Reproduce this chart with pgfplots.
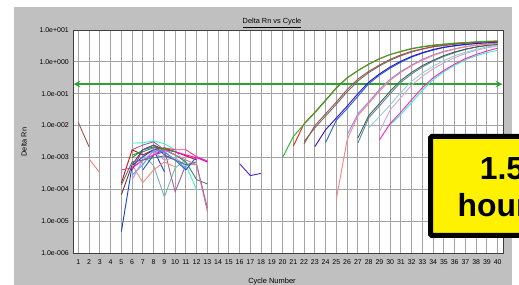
\documentclass[border=0pt]{standalone}
\usepackage{pgfplots}
\pgfplotsset{compat=1.18}
\usepackage{fontspec}
\setmainfont{Liberation Sans}
\definecolor{panel}{HTML}{C0C0C0}
\definecolor{gridc}{HTML}{A4A4A4}
\definecolor{thr}{HTML}{30A030}
\definecolor{cgreen}{HTML}{20B820}
\definecolor{cred}{HTML}{E02020}
\definecolor{cbrown}{HTML}{A05048}
\definecolor{cgray}{HTML}{687068}
\definecolor{cbviolet}{HTML}{3010C0}
\definecolor{cblue}{HTML}{2060E0}
\definecolor{csalmon}{HTML}{FF8080}
\definecolor{ccorn}{HTML}{8888FF}
\definecolor{cslate}{HTML}{406060}
\definecolor{cslateb}{HTML}{608888}
\definecolor{cpcyan}{HTML}{90D0D0}
\definecolor{cplum}{HTML}{D8A0D8}
\definecolor{cmag}{HTML}{FF20C0}
\definecolor{cturq}{HTML}{30F0D0}
\definecolor{naqua}{HTML}{40F0C0}
\definecolor{nred}{HTML}{D01010}
\definecolor{nbrown}{HTML}{803030}
\definecolor{nblue}{HTML}{1040E0}
\definecolor{ncadet}{HTML}{70B8B8}
\definecolor{nmauve}{HTML}{A060A0}
\definecolor{nteal}{HTML}{408070}
\definecolor{nblueb}{HTML}{3050D0}
\definecolor{nmag}{HTML}{FF00E0}
\definecolor{nsalmon}{HTML}{FF8880}
\definecolor{nhot}{HTML}{FF3090}
\definecolor{nrose}{HTML}{D070A0}
\definecolor{ngreen}{HTML}{10A010}
\definecolor{nviolet}{HTML}{7040C0}
\definecolor{nlblue}{HTML}{40A0FF}
\definecolor{norchid}{HTML}{C090E0}
\definecolor{nslate}{HTML}{507878}
\definecolor{npurple}{HTML}{5020D0}
\begin{document}
\begin{tikzpicture}
\useasboundingbox (0,0) rectangle (519bp,285bp);
\clip (0,0) rectangle (519bp,285bp);
\fill[white] (0,0) rectangle (519bp,285bp);
\fill[panel] (14bp,-2bp) rectangle (512bp,278bp);
\begin{axis}[
  at={(73bp,32bp)}, anchor=south west,
  scale only axis, width=430bp, height=223bp,
  xmin=0.5, xmax=40.5,
  ymode=log, log basis y=10, ymin=1e-6, ymax=10,
  xtick={1,...,40},
  ytick={1e-6,1e-5,1e-4,1e-3,1e-2,1e-1,1,10},
  yticklabels={1.0e-006,1.0e-005,1.0e-004,1.0e-003,1.0e-002,1.0e-001,1.0e+000,1.0e+001},
  grid=major, major grid style={color=gridc, line width=0.8bp},
  major tick length=0pt, minor tick num=0,
  axis line style={color=black!75, line width=0.8bp},
  axis background/.style={fill=white},
  tick label style={font=\fontsize{7}{8}\selectfont},
  /pgf/number format/assume math mode=true,
  xticklabel style={inner sep=0pt, anchor=north, yshift=-6.5bp},
  yticklabel style={inner sep=0pt, anchor=east, xshift=-4bp},
  clip=false,
  every axis plot/.append style={line width=0.9bp, mark=none},
]
% threshold
\addplot[thr, line width=2bp, <->, >=stealth] coordinates {(0.55,0.2)(40.45,0.2)};
% early noise
\addplot[cbrown] coordinates {(1,0.0124)(2,0.00214)};
\addplot[csalmon] coordinates {(2,0.00089)(3,0.00033)};
% noise cluster
\addplot[naqua] coordinates {(6,2.82e-3)(7,2.88e-3)(8,3.31e-3)(9,2.69e-3)(10,1.74e-3)(11,5.89e-4)(12,9.55e-5)};
\addplot[nred] coordinates {(5,1.58e-4)(6,1.74e-3)(7,1.20e-3)(8,1.74e-3)(9,2.00e-3)(10,1.51e-3)(11,1.12e-3)(12,8.32e-4)};
\addplot[nbrown] coordinates {(5,6.76e-5)(6,5.89e-4)(7,1.74e-3)(8,2.45e-3)(9,1.74e-3)(10,1.20e-3)};
\addplot[nblue] coordinates {(5,4.68e-6)(6,5.50e-4)(7,1.05e-3)(8,1.74e-3)(9,3.55e-4)};
\addplot[ncadet] coordinates {(7,1.20e-3)(8,5.50e-4)(9,5.75e-5)(10,4.68e-4)(11,8.32e-4)};
\addplot[nmauve] coordinates {(6,1.74e-3)(7,2.45e-3)(8,3.09e-3)(9,1.74e-3)(10,8.32e-5)(11,5.89e-4)(12,5.89e-4)(13,2.63e-5)};
\addplot[nteal] coordinates {(6,1.20e-3)(7,1.51e-3)(8,2.00e-3)(9,1.74e-3)(10,1.20e-3)(11,7.24e-4)(12,2.00e-4)(13,1.48e-4)};
\addplot[nblueb] coordinates {(7,4.07e-4)(8,1.20e-3)(9,1.51e-3)(10,8.32e-4)(11,4.07e-4)(12,1.05e-3)(13,7.24e-4)};
\addplot[nmag] coordinates {(6,4.68e-4)(7,8.32e-4)(8,1.20e-3)(9,1.74e-3)(10,1.51e-3)(11,1.20e-3)(12,9.77e-4)(13,7.24e-4)};
\addplot[nsalmon] coordinates {(6,5.89e-4)(7,1.62e-4)(8,4.07e-4)(9,7.24e-4)(10,5.01e-4)};
\addplot[nhot] coordinates {(5,4.07e-4)(6,4.68e-4)(7,8.32e-4)(8,1.20e-3)(9,2.00e-3)(10,1.74e-3)(11,1.74e-3)(12,1.05e-3)(13,7.76e-4)};
\addplot[nrose] coordinates {(8,1.51e-3)(9,1.74e-3)(10,1.20e-3)(11,8.32e-4)(12,5.89e-4)(13,2.00e-5)};
\addplot[ngreen] coordinates {(6,9.77e-4)(7,1.74e-3)(8,2.14e-3)(9,1.86e-3)(10,1.51e-3)};
\addplot[nviolet] coordinates {(6,4.07e-4)(7,1.74e-3)(8,2.45e-3)(9,1.20e-3)(10,8.32e-4)};
\addplot[nlblue] coordinates {(6,2.82e-4)(7,5.89e-4)(8,1.74e-3)(9,1.51e-3)(10,8.32e-4)(11,4.68e-4)};
\addplot[norchid] coordinates {(6,2.00e-4)(7,8.32e-4)(8,1.51e-3)(9,8.32e-4)(10,9.77e-4)(11,5.50e-4)};
\addplot[nslate] coordinates {(5,1.38e-4)(6,7.24e-4)(7,8.32e-4)(8,9.77e-4)(9,1.12e-3)(10,8.32e-4)(11,5.89e-4)(12,7.24e-4)};
\addplot[npurple] coordinates {(16,6.31e-4)(17,2.69e-4)(18,3.16e-4)};
% amplification curves
\addplot[cturq] coordinates {(30,0.0105)(31,0.0224)(32,0.0525)(33,0.129)(34,0.275)(35,0.490)(36,0.776)(37,1.17)(38,1.55)(39,1.95)(40,2.29)};
\addplot[cmag] coordinates {(29,0.00355)(30,0.0115)(31,0.0263)(32,0.0646)(33,0.155)(34,0.316)(35,0.537)(36,0.851)(37,1.26)(38,1.70)(39,2.19)(40,2.69)};
\addplot[cplum] coordinates {(29,0.00631)(30,0.0309)(31,0.0759)(32,0.186)(33,0.355)(34,0.603)(35,0.933)(36,1.35)(37,1.82)(38,2.29)(39,2.75)(40,3.13)};
\addplot[cpcyan] coordinates {(28,0.00851)(29,0.0191)(30,0.0447)(31,0.110)(32,0.245)(33,0.447)(34,0.724)(35,1.10)(36,1.55)(37,2.00)(38,2.45)(39,2.95)(40,3.24)};
\addplot[cslateb] coordinates {(27,0.00282)(28,0.0174)(29,0.0407)(30,0.100)(31,0.229)(32,0.417)(33,0.692)(34,1.05)(35,1.48)(36,1.95)(37,2.45)(38,2.88)(39,3.24)(40,3.55)};
\addplot[cslate] coordinates {(27,0.00407)(28,0.0204)(29,0.0490)(30,0.120)(31,0.263)(32,0.468)(33,0.759)(34,1.12)(35,1.58)(36,2.04)(37,2.51)(38,2.95)(39,3.31)(40,3.55)};
\addplot[ccorn] coordinates {(26,0.00501)(27,0.0234)(28,0.0550)(29,0.135)(30,0.288)(31,0.501)(32,0.794)(33,1.20)(34,1.66)(35,2.14)(36,2.57)(37,3.02)(38,3.31)(39,3.63)(40,3.89)};
\addplot[csalmon] coordinates {(25,0.0000501)(26,0.00355)(27,0.0204)(28,0.0490)(29,0.120)(30,0.263)(31,0.468)(32,0.759)(33,1.12)(34,1.58)(35,2.04)(36,2.51)(37,2.95)(38,3.31)(39,3.55)(40,3.80)};
\addplot[cblue] coordinates {(24,0.00295)(25,0.0148)(26,0.0339)(27,0.0832)(28,0.204)(29,0.380)(30,0.631)(31,0.977)(32,1.41)(33,1.86)(34,2.34)(35,2.82)(36,3.16)(37,3.47)(38,3.72)(39,3.98)(40,4.17)};
\addplot[cbviolet] coordinates {(23,0.00219)(24,0.00741)(25,0.0174)(26,0.0407)(27,0.100)(28,0.229)(29,0.417)(30,0.692)(31,1.05)(32,1.48)(33,1.95)(34,2.45)(35,2.88)(36,3.24)(37,3.55)(38,3.80)(39,3.98)(40,4.17)};
\addplot[cgray] coordinates {(22,0.00316)(23,0.00851)(24,0.0200)(25,0.0468)(26,0.115)(27,0.251)(28,0.457)(29,0.741)(30,1.12)(31,1.55)(32,2.04)(33,2.51)(34,2.95)(35,3.24)(36,3.55)(37,3.80)(38,4.07)(39,4.27)(40,4.37)};
\addplot[cbrown] coordinates {(22,0.00269)(23,0.0100)(24,0.0234)(25,0.0550)(26,0.135)(27,0.288)(28,0.501)(29,0.794)(30,1.20)(31,1.66)(32,2.14)(33,2.57)(34,3.02)(35,3.31)(36,3.63)(37,3.89)(38,4.07)(39,4.27)(40,4.42)};
\addplot[cred] coordinates {(21,0.00229)(22,0.0115)(23,0.0263)(24,0.0631)(25,0.155)(26,0.316)(27,0.537)(28,0.851)(29,1.26)(30,1.70)(31,2.09)(32,2.57)(33,2.95)(34,3.24)(35,3.55)(36,3.80)(37,3.98)(38,4.17)(39,4.27)(40,4.37)};
\addplot[cgreen] coordinates {(20,0.00100)(21,0.00457)(22,0.0110)(23,0.0251)(24,0.0603)(25,0.148)(26,0.309)(27,0.525)(28,0.832)(29,1.23)(30,1.70)(31,2.16)(32,2.63)(33,3.02)(34,3.39)(35,3.63)(36,3.89)(37,4.07)(38,4.27)(39,4.47)(40,4.57)};
\end{axis}
% title and labels
\node[anchor=base, font=\fontsize{7.4}{9}\selectfont, inner sep=0pt] at (272bp,261bp) {\underline{Delta Rn vs Cycle}};
\node[anchor=base, font=\fontsize{7.5}{9}\selectfont, inner sep=0pt] at (272bp,1.5bp) {Cycle Number};
\node[anchor=base, rotate=90, font=\fontsize{7.4}{9}\selectfont, inner sep=0pt] at (26.5bp,143bp) {Delta Rn};
% overlay box
\draw[line width=5bp, fill=yellow, rounded corners=1.5bp] (430.5bp,49.5bp) rectangle (600bp,148.5bp);
\node[anchor=base, font=\bfseries\fontsize{32}{37}\selectfont, inner sep=0pt] at (502bp,105bp) {1.5};
\node[anchor=base, font=\bfseries\fontsize{32}{37}\selectfont, inner sep=0pt] at (502bp,68.3bp) {hours};
\end{tikzpicture}
\end{document}
